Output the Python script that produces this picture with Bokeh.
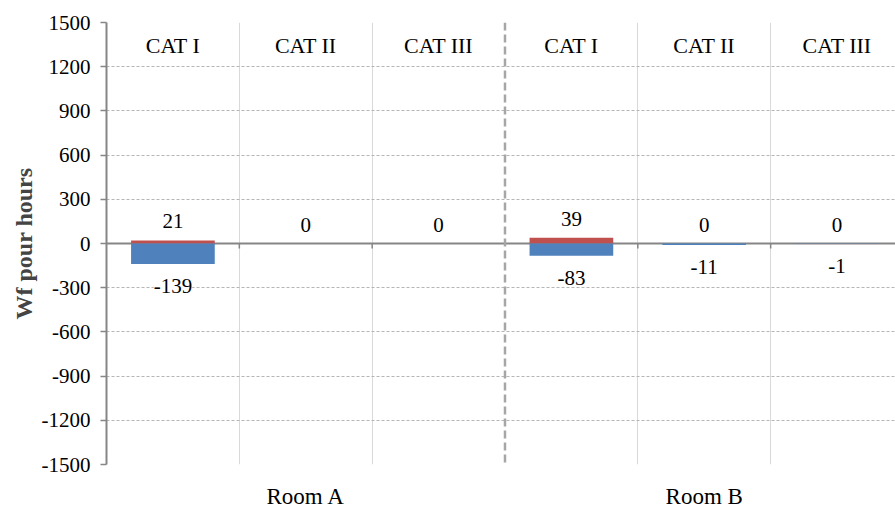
from bokeh.plotting import figure
from bokeh.models import (Range1d, FixedTicker, Span, Arrow, LabelSet,
                          ColumnDataSource)
from bokeh.embed import file_html
from bokeh.resources import INLINE

# ---- data -------------------------------------------------------------
rooms = ["Room A", "Room B"]
categories = ["CAT I", "CAT II", "CAT III", "CAT I", "CAT II", "CAT III"]
positive = [21, 0, 0, 39, 0, 0]          # upper (red) series
negative = [-139, 0, 0, -83, -11, -1]    # lower (blue) series
y_ticks = [-1500, -1200, -900, -600, -300, 0, 300, 600, 900, 1200, 1500]

FONT = "Liberation Serif"
W, H = 895, 518
LEFT, TOP, BOTTOM = 106, 22, 54

n = len(categories)
centers = [i + 0.5 for i in range(n)]
group_size = len(categories) // len(rooms)
room_centers = [g * group_size + group_size / 2 for g in range(len(rooms))]

y_min, y_max = y_ticks[0], y_ticks[-1]
x_end = n - 0.06  # last column runs slightly past the right edge

p = figure(width=W, height=H, x_range=Range1d(0, x_end),
           y_range=Range1d(y_min, y_max),
           output_backend="svg", toolbar_location=None,
           min_border_left=LEFT, min_border_right=0,
           min_border_top=TOP, min_border_bottom=BOTTOM)
p.outline_line_color = None
p.background_fill_color = "white"
p.border_fill_color = "white"

# ---- y axis --------------------------------------------------------------
yax = p.yaxis[0]
yax.ticker = FixedTicker(ticks=y_ticks)
yax.major_label_overrides = {t: str(t) for t in y_ticks}  # plain hyphen minus
yax.axis_label = "Wf pour hours"
yax.axis_label_text_font = FONT
yax.axis_label_text_font_style = "bold"
yax.axis_label_text_font_size = "24px"
yax.axis_label_standoff = 2
yax.axis_line_color = "#868686"
yax.axis_line_width = 2
yax.major_tick_line_color = "#868686"
yax.major_tick_line_width = 1.5
yax.major_tick_out = 6
yax.major_tick_in = 0
yax.minor_tick_line_color = None
yax.major_label_text_font = FONT
yax.major_label_text_font_size = "21px"
yax.major_label_text_color = "black"
yax.major_label_standoff = 10

# ---- x axis: room names under each group ----------------------------------
xax = p.xaxis[0]
xax.ticker = FixedTicker(ticks=room_centers)
xax.major_label_overrides = {c: r for c, r in zip(room_centers, rooms)}
xax.axis_line_color = None
xax.major_tick_line_color = None
xax.minor_tick_line_color = None
xax.major_tick_out = 0
xax.major_label_standoff = 19
xax.major_label_text_font = FONT
xax.major_label_text_font_size = "23px"
xax.major_label_text_color = "black"

# ---- grids ---------------------------------------------------------------
p.ygrid.grid_line_color = "#b5b5b5"
p.ygrid.grid_line_dash = "3 2"
p.ygrid.grid_line_width = 1
boundaries = [i for i in range(1, n) if i % group_size != 0]
p.xgrid.ticker = FixedTicker(ticks=boundaries)
p.xgrid.grid_line_color = "#d9d9d9"
p.xgrid.grid_line_width = 1

# zero line, drawn beneath the bars
p.add_layout(Span(location=0, dimension="width", line_color="#868686",
                  line_width=2, level="underlay"))

# little tick marks on the zero line at the category boundaries
px_per_unit = (H - TOP - BOTTOM) / (y_max - y_min)
p.segment(x0=boundaries, y0=[0] * len(boundaries),
          x1=boundaries, y1=[-5 / px_per_unit] * len(boundaries),
          line_color="#868686", line_width=1.5)

# ---- bars ------------------------------------------------------------------
p.vbar(x=centers, top=positive, bottom=0, width=0.63,
       fill_color="#C0504D", line_color=None)
p.vbar(x=centers, top=0, bottom=negative, width=0.63,
       fill_color="#4F81BD", line_color=None)

# ---- dashed separator between the rooms -----------------------------------
for g in range(1, len(rooms)):
    p.add_layout(Arrow(end=None, x_start=g * group_size, y_start=y_max,
                       x_end=g * group_size,
                       y_end=y_min - BOTTOM / px_per_unit,
                       line_color="#a6a6a6", line_width=2.5,
                       line_dash="8 4"))

# ---- value labels ------------------------------------------------------------
pos_src = ColumnDataSource(dict(x=centers, y=positive,
                                t=[str(v) for v in positive]))
p.add_layout(LabelSet(x="x", y="y", text="t", source=pos_src,
                      y_offset=19, text_align="center",
                      text_baseline="middle", text_font=FONT,
                      text_font_size="21px", text_color="black",
                      background_fill_color="white"))

neg_idx = [i for i, v in enumerate(negative) if v != 0]
neg_src = ColumnDataSource(dict(x=[centers[i] for i in neg_idx],
                                y=[negative[i] for i in neg_idx],
                                t=[str(negative[i]) for i in neg_idx]))
p.add_layout(LabelSet(x="x", y="y", text="t", source=neg_src,
                      y_offset=-22, text_align="center",
                      text_baseline="middle", text_font=FONT,
                      text_font_size="21px", text_color="black",
                      background_fill_color="white"))

# ---- category names along the top -------------------------------------------
cat_src = ColumnDataSource(dict(x=centers, y=[y_max] * n, t=categories))
p.add_layout(LabelSet(x="x", y="y", text="t", source=cat_src,
                      y_offset=-23, text_align="center",
                      text_baseline="middle", text_font=FONT,
                      text_font_size="22px", text_color="black"))

open("out.html", "w").write(file_html(p, INLINE))
